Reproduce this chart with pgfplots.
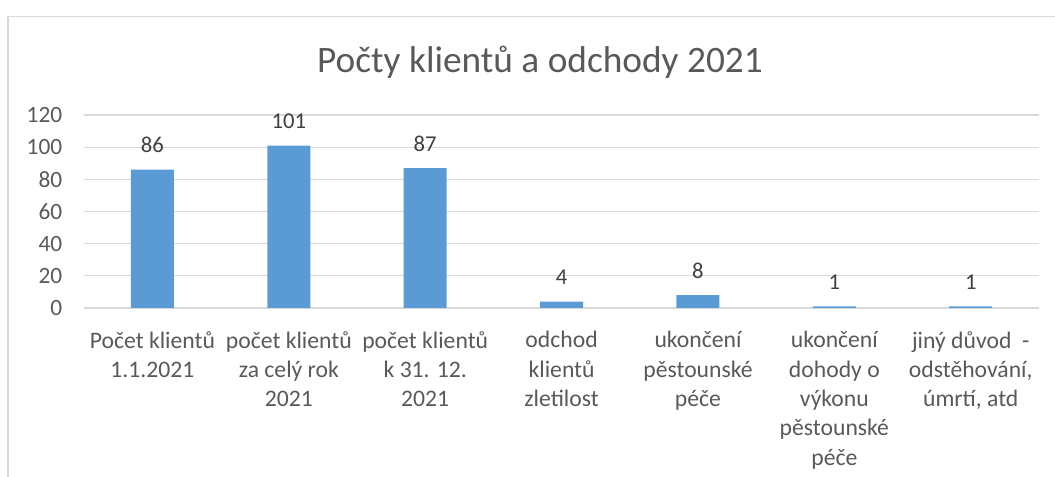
\documentclass[border=0pt]{standalone}
\usepackage{fontspec}
\setmainfont{Carlito}
\usepackage{pgfplots}
\pgfplotsset{compat=1.18}
\definecolor{barblue}{HTML}{5B9BD5}
\definecolor{gridgray}{HTML}{D9D9D9}
\definecolor{txtgray}{HTML}{595959}
\definecolor{lblgray}{HTML}{404040}
\begin{document}
\begin{tikzpicture}
\path[use as bounding box] (0pt,0pt) rectangle (791.25pt,357.75pt);
\draw[gridgray, line width=1.2pt] (6pt,0pt) -- (6pt,345.4pt) -- (791.25pt,345.4pt);
\node[text=txtgray, font=\fontsize{28}{33}\selectfont] at (405pt,311.25pt) {Počty klientů a odchody 2021};
\begin{axis}[
  at={(63.2pt,126.75pt)}, anchor=south west,
  scale only axis, width=716pt, height=144.75pt,
  xmin=-0.5, xmax=6.5, ymin=0, ymax=120,
  axis line style={draw=none},
  ytick={0,20,...,120}, ymajorgrids, grid style={gridgray, line width=0.9pt},
  xtick={0,...,6},
  xticklabels={{Počet klientů\\1.1.2021},{počet klientů\\za celý rok\\2021},{počet klientů\\k 31. 12.\\2021},{odchod\\klientů\\zletilost},{ukončení\\pěstounské\\péče},{ukončení\\dohody o\\výkonu\\pěstounské\\péče},{jiný důvod~ -\\odstěhování,\\úmrtí, atd}},
  major tick length=0pt,
  tick style={draw=none},
  /pgf/number format/assume math mode=true,
  xticklabel style={align=center, font=\fontsize{17.75}{22}\selectfont, text=txtgray, yshift=-14pt},
  yticklabel style={font=\fontsize{17.5}{21}\selectfont, text=txtgray, xshift=-13pt},
  ybar, bar width=32.25pt,
  nodes near coords,
  nodes near coords style={font=\fontsize{17}{20}\selectfont, text=lblgray, yshift=9pt},
  clip=false
]
\addplot[fill=barblue, draw=none] coordinates {(0,86) (1,101) (2,87) (3,4) (4,8) (5,1) (6,1)};
\end{axis}
\end{tikzpicture}
\end{document}
